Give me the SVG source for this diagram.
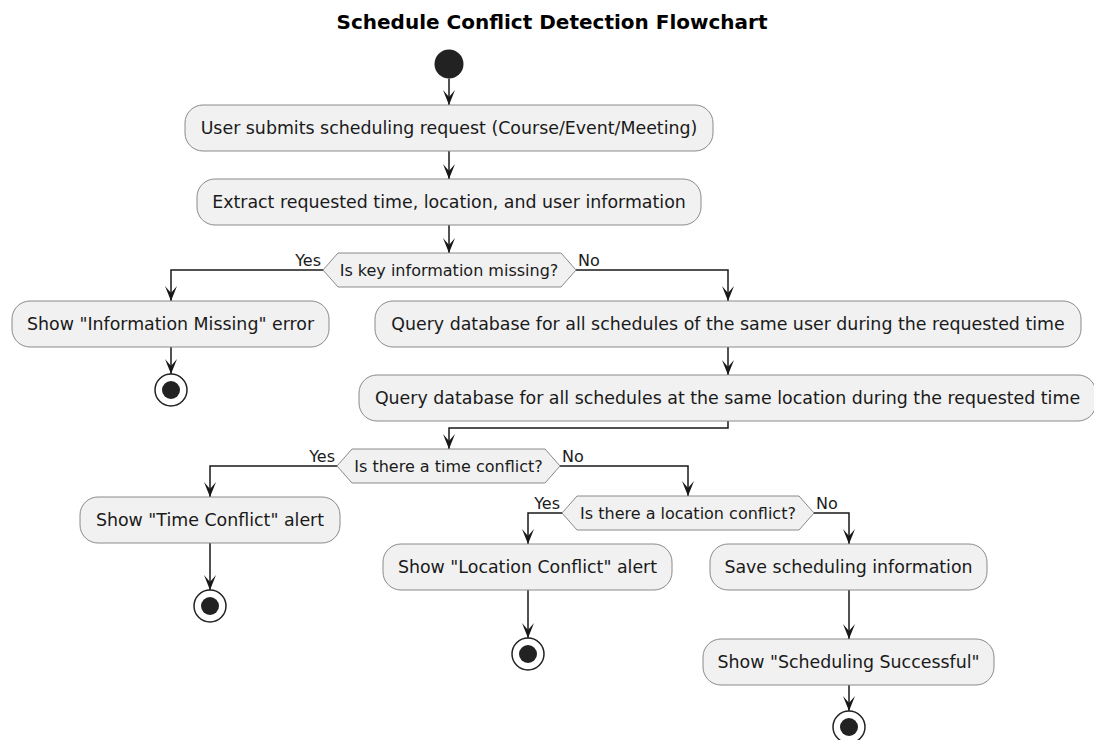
<svg xmlns="http://www.w3.org/2000/svg" width="1094" height="740" viewBox="0 0 1094 740">
<defs>
<style>
.box{fill:#F1F1F1;stroke:#8A8A8A;stroke-width:1}
.dia{fill:#F1F1F1;stroke:#8A8A8A;stroke-width:1}
.t{font-family:"DejaVu Sans",sans-serif;font-size:17.4px;fill:#1A1A1A;text-anchor:middle}
.d{font-family:"DejaVu Sans",sans-serif;font-size:16px;fill:#1A1A1A;text-anchor:middle}
.lbl{font-family:"DejaVu Sans",sans-serif;font-size:16px;fill:#1A1A1A}
.title{font-family:"DejaVu Sans",sans-serif;font-size:20px;font-weight:bold;fill:#000;text-anchor:middle}
.ln{fill:none;stroke:#181818;stroke-width:1.5}
.start{fill:#222222}
.endo{fill:none;stroke:#222222;stroke-width:1.5}
.endi{fill:#222222}
</style>
<marker id="ah" markerUnits="userSpaceOnUse" markerWidth="16" markerHeight="14" viewBox="-16 -7 16 14" refX="0" refY="0" orient="auto">
<path d="M0,0 L-15,-6 L-8,0 L-15,6 Z" fill="#181818"/>
</marker>
</defs>
<rect width="1094" height="740" fill="#FFFFFF"/>
<text class="title" x="552" y="29">Schedule Conflict Detection Flowchart</text>

<g id="connectors">
<path class="ln" d="M449,78.5 V105" marker-end="url(#ah)"/>
<path class="ln" d="M449,151 V179" marker-end="url(#ah)"/>
<path class="ln" d="M449,225 V253" marker-end="url(#ah)"/>
<path class="ln" d="M323,270 H171 V301" marker-end="url(#ah)"/>
<path class="ln" d="M576,270 H728 V301" marker-end="url(#ah)"/>
<path class="ln" d="M171,347 V374" marker-end="url(#ah)"/>
<path class="ln" d="M728,347 V375" marker-end="url(#ah)"/>
<path class="ln" d="M728,421 V428 H449 V449" marker-end="url(#ah)"/>
<path class="ln" d="M337,466 H210 V497" marker-end="url(#ah)"/>
<path class="ln" d="M560,466 H688 V496" marker-end="url(#ah)"/>
<path class="ln" d="M210,543 V590" marker-end="url(#ah)"/>
<path class="ln" d="M562,513 H528 V544" marker-end="url(#ah)"/>
<path class="ln" d="M814,513 H849 V544" marker-end="url(#ah)"/>
<path class="ln" d="M528,590 V638" marker-end="url(#ah)"/>
<path class="ln" d="M849,590 V639" marker-end="url(#ah)"/>
<path class="ln" d="M849,685 V711" marker-end="url(#ah)"/>
<text class="lbl" x="321" y="266" text-anchor="end">Yes</text>
<text class="lbl" x="578" y="266">No</text>
<text class="lbl" x="335" y="462" text-anchor="end">Yes</text>
<text class="lbl" x="562" y="462">No</text>
<text class="lbl" x="560" y="509" text-anchor="end">Yes</text>
<text class="lbl" x="816" y="509">No</text>
</g>

<g id="start"><circle class="start" cx="449" cy="64" r="14.5"/></g>

<g id="n1"><rect class="box" x="185" y="105" width="528" height="46" rx="18"/><text class="t" x="449" y="134">User submits scheduling request (Course/Event/Meeting)</text></g>
<g id="n2"><rect class="box" x="197" y="179" width="504" height="46" rx="18"/><text class="t" x="449" y="208">Extract requested time, location, and user information</text></g>
<g id="d1"><polygon class="dia" points="323,270 338,253 561,253 576,270 561,287 338,287"/><text class="d" x="449" y="276">Is key information missing?</text></g>
<g id="n3"><rect class="box" x="12" y="301" width="317" height="46" rx="18"/><text class="t" x="170.5" y="330">Show "Information Missing" error</text></g>
<g id="e1"><circle class="endo" cx="171" cy="390" r="16"/><circle class="endi" cx="171" cy="390" r="9"/></g>
<g id="n4"><rect class="box" x="375" y="301" width="706" height="46" rx="18"/><text class="t" x="728" y="330">Query database for all schedules of the same user during the requested time</text></g>
<g id="n5"><rect class="box" x="359" y="375" width="737" height="46" rx="18"/><text class="t" x="727.5" y="404">Query database for all schedules at the same location during the requested time</text></g>
<g id="d2"><polygon class="dia" points="337,466 352,449 545,449 560,466 545,483 352,483"/><text class="d" x="448.5" y="472">Is there a time conflict?</text></g>
<g id="n6"><rect class="box" x="80" y="497" width="260" height="46" rx="18"/><text class="t" x="210" y="526">Show "Time Conflict" alert</text></g>
<g id="e2"><circle class="endo" cx="210" cy="606" r="16"/><circle class="endi" cx="210" cy="606" r="9"/></g>
<g id="d3"><polygon class="dia" points="562,513 577,496 799,496 814,513 799,530 577,530"/><text class="d" x="688" y="519">Is there a location conflict?</text></g>
<g id="n7"><rect class="box" x="383" y="544" width="289" height="46" rx="18"/><text class="t" x="527.5" y="573">Show "Location Conflict" alert</text></g>
<g id="e3"><circle class="endo" cx="528" cy="654" r="16"/><circle class="endi" cx="528" cy="654" r="9"/></g>
<g id="n8"><rect class="box" x="710" y="544" width="277" height="46" rx="18"/><text class="t" x="848.5" y="573">Save scheduling information</text></g>
<g id="n9"><rect class="box" x="703" y="639" width="291" height="46" rx="18"/><text class="t" x="848.5" y="668">Show "Scheduling Successful"</text></g>
<g id="e4"><circle class="endo" cx="849" cy="727" r="16"/><circle class="endi" cx="849" cy="727" r="9"/></g>
</svg>
